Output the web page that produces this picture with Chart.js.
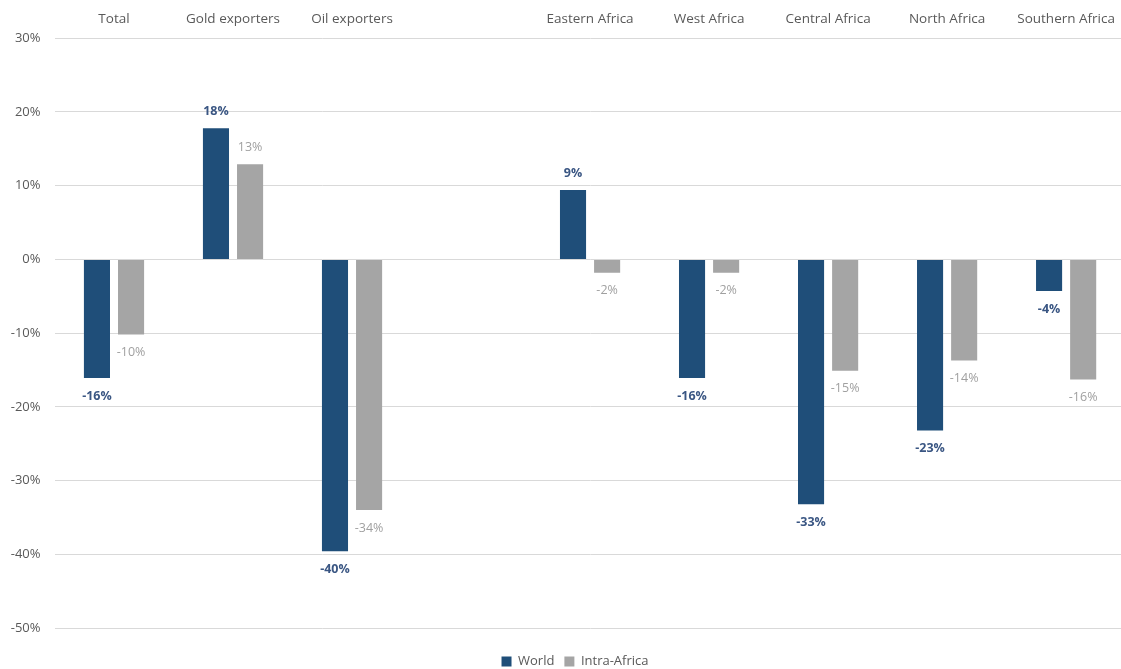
<!DOCTYPE html>
<html>
<head>
<meta charset="utf-8">
<script src="https://cdn.jsdelivr.net/npm/chart.js@4/dist/chart.umd.min.js"></script>
<style>
  html, body { margin: 0; padding: 0; background: #ffffff; overflow: hidden; }
  #wrap { width: 1126px; height: 669px; position: relative; }
</style>
</head>
<body>
<div id="wrap"><canvas id="c"></canvas></div>
<script>
const categories = ["Total", "Gold exporters", "Oil exporters", "", "Eastern Africa", "West Africa", "Central Africa", "North Africa", "Southern Africa"];
const worldValues = [-16.1, 17.8, -39.6, null, 9.4, -16.1, -33.2, -23.2, -4.3];
const intraAfricaValues = [-10.2, 12.9, -34.0, null, -1.8, -1.8, -15.1, -13.7, -16.3];
const yTicks = [30, 20, 10, 0, -10, -20, -30, -40, -50];

const FONT = "'Open Sans', 'Liberation Sans', sans-serif";

const labelPlugin = {
  id: 'barLabels',
  afterDatasetsDraw(chart) {
    const ctx = chart.ctx;
    chart.data.datasets.forEach((ds, i) => {
      const meta = chart.getDatasetMeta(i);
      meta.data.forEach((bar, j) => {
        const v = ds.data[j];
        if (v === null || v === undefined) return;
        ctx.save();
        ctx.font = (i === 0 ? 'bold ' : '') + '12.5px ' + FONT;
        ctx.fillStyle = i === 0 ? '#3a5683' : '#a0a0a0';
        ctx.textAlign = 'center';
        ctx.textBaseline = 'middle';
        const txt = Math.round(v) + '%';
        const y = v >= 0 ? bar.y - 17 : bar.y + 18;
        ctx.fillText(txt, bar.x, y);
        ctx.restore();
      });
    });
  }
};

const legendTweak = {
  id: 'legendTweak',
  beforeInit(chart) {
    const lg = chart.legend;
    if (lg) {
      const orig = lg.fit;
      lg.fit = function () { orig.call(this); this.height = 41; };
    }
  },
  beforeDraw(chart) {
    const lg = chart.legend;
    if (lg && !lg._shifted) {
      lg.left += 12; lg.right += 12; lg._shifted = true;
    }
  },
  afterLayout(chart) { if (chart.legend) chart.legend._shifted = false; }
};

new Chart(document.getElementById('c'), {
  type: 'bar',
  data: {
    labels: categories,
    datasets: [
      { label: 'World', data: worldValues, backgroundColor: '#1f4e79', borderColor: '#1f4e79',
        barPercentage: 0.765, categoryPercentage: 0.573 },
      { label: 'Intra-Africa', data: intraAfricaValues, backgroundColor: '#a5a5a5', borderColor: '#a5a5a5',
        barPercentage: 0.765, categoryPercentage: 0.573 }
    ]
  },
  options: {
    responsive: true,
    maintainAspectRatio: false,
    animation: false,
    layout: { padding: { left: 0, right: 0, top: 0, bottom: 0 } },
    plugins: {
      legend: {
        position: 'bottom',
        title: { display: true, text: '', font: { size: 10 }, padding: { top: 5, bottom: 0 } },
        labels: {
          boxWidth: 10, boxHeight: 10, padding: 10,
          color: '#595959',
          font: { family: FONT, size: 13 }
        }
      },
      tooltip: { enabled: false }
    },
    scales: {
      x: {
        position: 'top',
        grid: { display: false, drawTicks: false },
        border: { display: false },
        ticks: { color: '#595959', font: { family: FONT, size: 13.5 }, padding: 11, maxRotation: 0, autoSkip: false }
      },
      y: {
        min: -50, max: 30,
        afterBuildTicks(axis) { axis.ticks = yTicks.map(v => ({ value: v })); },
        afterFit(axis) { axis.width = 54.5; },
        grid: { color: '#d9d9d9', lineWidth: 1, drawTicks: false },
        border: { display: false },
        ticks: {
          color: '#595959', font: { family: FONT, size: 13 }, padding: 14,
          callback: v => v + '%'
        }
      }
    }
  },
  plugins: [labelPlugin, legendTweak]
});
</script>
</body>
</html>
